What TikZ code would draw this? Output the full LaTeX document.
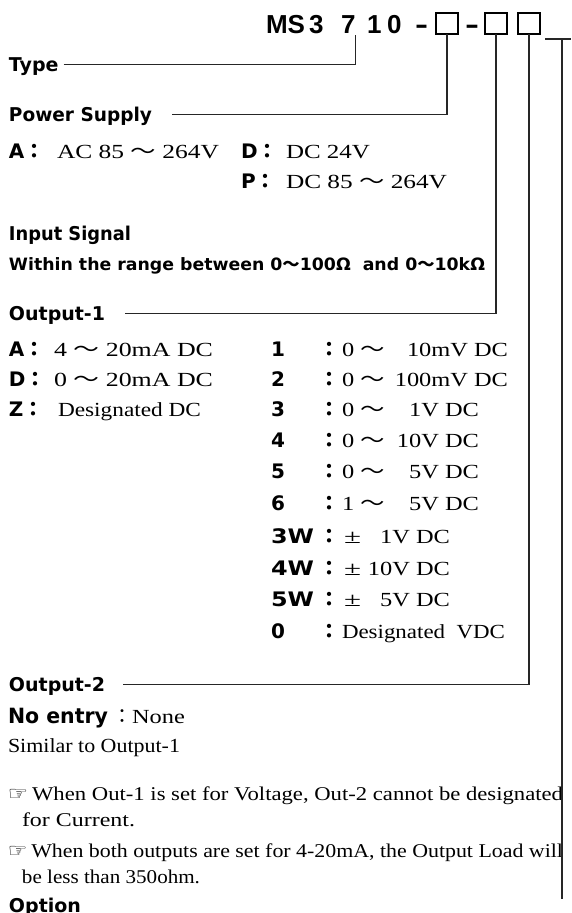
\documentclass[tikz,border=0pt]{standalone}
\usepackage{fontspec}
\usepackage{graphicx}
\setmainfont{Liberation Serif}
\newfontfamily\gothic{DejaVu Sans}
\newfontfamily\titlefont{Liberation Sans}
\newfontfamily\cjkjp{Noto Sans CJK JP}
\newfontfamily\symfont{DejaVu Sans}
\newsavebox\fitbox
\newcommand\fitto[2]{\sbox\fitbox{#2}\scalebox{\fpeval{round((#1)/(\the\wd\fitbox),4)}}[1]{\usebox\fitbox}}
\newcommand\sx[1]{\scalebox{1.22}[1]{#1}}
\newcommand\wv{{\cjkjp 〜}}
\newcommand\fc{{\cjkjp ：}}
\newcommand\hb{\gothic\bfseries}
\tikzset{
  lbl/.style={anchor=base west, inner sep=0pt, outer sep=0pt, text height=13pt, text depth=0pt},
  lble/.style={lbl, anchor=base east},
  hdr/.style={lbl, font=\hb\fontsize{19}{19}\selectfont},
  key/.style={lbl, font=\hb\fontsize{20}{20}\selectfont},
  sv/.style={lbl, font=\fontsize{20}{20}\selectfont},
  sve/.style={lble, font=\fontsize{20}{20}\selectfont},
  note/.style={lbl, font=\fontsize{19.5}{19.5}\selectfont},
  ttl/.style={lbl, text height=19pt, font=\titlefont\bfseries\fontsize{26}{26}\selectfont},
  slot/.style={draw, line width=1.4pt, minimum width=22pt, minimum height=21pt, inner sep=0pt, outer sep=0pt},
  conn/.style={line width=1.3pt, draw=black!85},
}
\begin{document}
\begin{tikzpicture}[x=1pt,y=-1pt]
\useasboundingbox (0,0) rectangle (571,913);
% title
\node[ttl] (tm) at (266,33) {MS};
\node[ttl] (t3) at (309,33) {3};
\node[ttl] (t7) at (341,33) {7};
\node[ttl] (t1) at (367,33) {1};
\node[ttl] (t0) at (387,33) {0};
\node[ttl] (h1) at (415,33) {\fitto{13pt}{-}};
\node[slot] (b1) at (447,23.5) {};
\node[ttl] (h2) at (465,33) {\fitto{14pt}{-}};
\node[slot] (b2) at (496,23.5) {};
\node[slot] (b3) at (529,23.5) {};
\coordinate (ua) at (545,39);
\coordinate (ub) at (571,39);
\coordinate (uc) at (562,39);
\coordinate (ud) at (562,899);

% Type
\node[hdr] (type) at (9,71) {Type};
% Power supply
\node[hdr] (power) at (9,121) {\fitto{143pt}{Power Supply}};
\node[key] (pa) at (9,158) {A\fc};
\node[sv] (pav) at (57,158) {\fitto{162pt}{AC 85 \wv\ 264V}};
\node[key] (pd) at (241,158) {D\fc};
\node[sv] (pdv) at (286,158) {\fitto{84pt}{DC 24V}};
\node[key] (pp) at (241,188) {P\fc};
\node[sv] (ppv) at (286,188) {\fitto{161pt}{DC 85 \wv\ 264V}};
% Input
\node[hdr] (input) at (9,240) {\fitto{122pt}{Input Signal}};
\node[lbl, font=\hb\fontsize{17}{17}\selectfont] (range) at (9,270)
  {\fitto{476pt}{Within the range between 0{\cjkjp\bfseries 〜}100Ω\ \ and 0{\cjkjp\bfseries 〜}10kΩ}};
% Output-1
\node[hdr] (out1) at (9,320) {Output-1};
\node[key] (oa) at (9,356) {A\fc};
\node[sv] (oav) at (54,356) {\fitto{159pt}{4 \wv\ 20mA DC}};
\node[key] (od) at (9,386) {D\fc};
\node[sv] (odv) at (54,386) {\fitto{159pt}{0 \wv\ 20mA DC}};
\node[key] (oz) at (9,416) {Z\fc};
\node[sv] (ozv) at (58,416) {\fitto{143pt}{Designated DC}};
% right column
\foreach \nm/\num/\yy in {n1/1/356, n2/2/386, n3/3/416, n4/4/447, n5/5/478.5, n6/6/510, n10/0/638}{
  \node[key] (\nm) at (271,\yy) {\num};
  \node[key] (\nm c) at (319,\yy) {\fc};
}
\foreach \nm/\num/\yy in {n7/3W/543, n8/4W/575, n9/5W/606.5}{
  \node[key] (\nm) at (271,\yy) {\fitto{43pt}{\num}};
  \node[key] (\nm c) at (319,\yy) {\fc};
}
\node[sv] (r1a) at (342,356) {\sx{0 \wv}};
\node[sve] (r1b) at (508,356) {\sx{10mV DC}};
\node[sv] (r2a) at (342,386) {\sx{0 \wv}};
\node[sve] (r2b) at (508,386) {\sx{100mV DC}};
\node[sv] (r3a) at (342,416) {\sx{0 \wv}};
\node[sve] (r3b) at (479,416) {\sx{1V DC}};
\node[sv] (r4a) at (342,447) {\sx{0 \wv}};
\node[sve] (r4b) at (479,447) {\sx{10V DC}};
\node[sv] (r5a) at (342,478.5) {\sx{0 \wv}};
\node[sve] (r5b) at (479,478.5) {\sx{5V DC}};
\node[sv] (r6a) at (342,510) {\sx{1 \wv}};
\node[sve] (r6b) at (479,510) {\sx{5V DC}};
\node[sv] (r7a) at (344,543) {\fitto{17pt}{±}};
\node[sve] (r7b) at (450,543) {\sx{1V DC}};
\node[sv] (r8a) at (344,575) {\fitto{17pt}{±}};
\node[sve] (r8b) at (450,575) {\sx{10V DC}};
\node[sv] (r9a) at (344,606.5) {\fitto{17pt}{±}};
\node[sve] (r9b) at (450,606.5) {\sx{5V DC}};
\node[sv] (r10) at (342,638) {\fitto{163pt}{Designated\ \ VDC}};
% Output-2
\node[hdr] (out2) at (9,691) {Output-2};
\node[lbl, font=\hb\fontsize{21}{21}\selectfont] (noentry) at (8,723) {\fitto{100pt}{No entry}};
\node[sv] (none) at (112,723) {\fc\sx{None}};
\node[sv] (similar) at (8,752) {\fitto{172pt}{Similar to Output-1}};
% notes
\node[note] (note1) at (8,800) {\fitto{555pt}{{\symfont ☞}\,When Out-1 is set for Voltage, Out-2 cannot be designated}};
\node[note] (note1b) at (22,826) {\fitto{113pt}{for Current.}};
\node[note] (note2) at (8,857) {\fitto{555pt}{{\symfont ☞}\,When both outputs are set for 4-20mA, the Output Load will}};
\node[note] (note2b) at (22,883) {\fitto{178pt}{be less than 350ohm.}};
% Option
\node[hdr] (option) at (9,912) {Option};

% connectors
\draw[conn] ([xshift=5pt]type.east) -- (type.east -| t7.south east) -- ([yshift=-2pt]t7.south east);
\draw[conn] ([xshift=20pt]power.east) -- (power.east -| b1.south) -- (b1.south);
\draw[conn] ([xshift=20pt]out1.east) -- (out1.east -| b2.south) -- (b2.south);
\draw[conn] ([xshift=18pt]out2.east) -- (out2.east -| b3.south) -- (b3.south);
\draw[conn] (ua) -- (ub);
\draw[conn] (uc) -- (ud);
\end{tikzpicture}
\end{document}
